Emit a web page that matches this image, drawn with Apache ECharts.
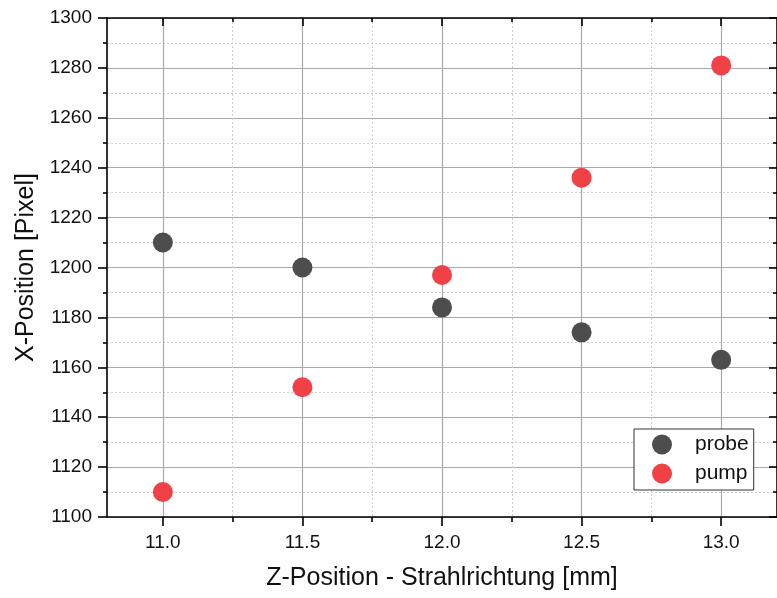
<!DOCTYPE html>
<html>
<head>
<meta charset="utf-8">
<title>X-Position vs Z-Position</title>
<script src="https://cdn.jsdelivr.net/npm/echarts@6/dist/echarts.min.js"></script>
<style>
  html, body { margin: 0; padding: 0; background: #ffffff; }
  #chart { width: 777px; height: 598px; }
</style>
</head>
<body>
<div id="chart"></div>
<script>
// Measured beam positions along the beam direction
const zPos = [11.0, 11.5, 12.0, 12.5, 13.0];
const probe = [1210, 1200, 1184, 1174, 1163];
const pump = [1110, 1152, 1197, 1236, 1281];

// Tick positions on the Z axis
const xMajor = [11.0, 11.5, 12.0, 12.5, 13.0];
const xMinor = [11.25, 11.75, 12.25, 12.75];

const FONT = 'Liberation Sans, Arial, sans-serif';
const AXIS = { color: '#000000', width: 1.6 };
const MAJOR_GRID = { color: '#a9a9a9', width: 1.2, type: 'solid' };
const MINOR_GRID = { color: '#cfcfcf', width: 1, type: [2, 2] };

const X_MIN = 10.8, X_MAX = 13.2;

const chart = echarts.init(document.getElementById('chart'), null, { renderer: 'canvas' });

const option = {
  backgroundColor: '#ffffff',
  animation: false,
  grid: { left: 107, top: 18, width: 674, height: 499, containLabel: false },
  legend: {
    orient: 'vertical',
    left: 634,
    top: 429,
    padding: [5, 5, 6, 18],
    itemWidth: 20,
    itemHeight: 20,
    itemGap: 8,
    borderColor: '#333333',
    borderWidth: 1,
    backgroundColor: '#ffffff',
    textStyle: { fontFamily: FONT, fontSize: 21, color: '#111111', padding: [0, 0, 0, 18] },
    data: ['probe', 'pump']
  },
  xAxis: [
    {
      type: 'value', min: X_MIN, max: X_MAX, position: 'bottom',
      name: 'Z-Position - Strahlrichtung [mm]',
      nameLocation: 'middle', nameGap: 49,
      nameTextStyle: { fontFamily: FONT, fontSize: 25, color: '#111111' },
      axisLine: { show: true, onZero: false, lineStyle: AXIS },
      axisTick: { show: true, customValues: xMajor, length: 9, inside: false, lineStyle: AXIS },
      axisLabel: {
        customValues: xMajor, margin: 16,
        formatter: v => Number(v).toFixed(1),
        fontFamily: FONT, fontSize: 19, color: '#111111'
      },
      splitLine: { show: true, lineStyle: MAJOR_GRID }
    },
    {
      type: 'value', min: X_MIN, max: X_MAX, position: 'bottom',
      axisLine: { show: false, onZero: false },
      axisTick: { show: true, customValues: xMinor, length: 5, inside: false, lineStyle: AXIS },
      axisLabel: { show: false },
      splitLine: { show: true, lineStyle: MINOR_GRID }
    },
    {
      type: 'value', min: X_MIN, max: X_MAX, position: 'top',
      axisLine: { show: true, onZero: false, lineStyle: AXIS },
      axisTick: { show: true, customValues: xMajor, length: 8, inside: true, lineStyle: AXIS },
      axisLabel: { show: false },
      splitLine: { show: false }
    },
    {
      type: 'value', min: X_MIN, max: X_MAX, position: 'top',
      axisLine: { show: false, onZero: false },
      axisTick: { show: true, customValues: xMinor, length: 4, inside: true, lineStyle: AXIS },
      axisLabel: { show: false },
      splitLine: { show: false }
    }
  ],
  yAxis: [
    {
      type: 'value', min: 1100, max: 1300, interval: 20, position: 'left',
      name: 'X-Position [Pixel]',
      nameLocation: 'middle', nameGap: 54,
      nameTextStyle: { fontFamily: FONT, fontSize: 25, color: '#111111' },
      axisLine: { show: true, onZero: false, lineStyle: AXIS },
      axisTick: { show: true, length: 9, inside: false, lineStyle: AXIS },
      minorTick: { show: true, splitNumber: 2, length: 4, lineStyle: AXIS },
      axisLabel: {
        margin: 15, formatter: v => String(v),
        fontFamily: FONT, fontSize: 19, color: '#111111'
      },
      splitLine: { show: true, lineStyle: MAJOR_GRID },
      minorSplitLine: { show: true, lineStyle: MINOR_GRID }
    },
    {
      type: 'value', min: 1100, max: 1300, interval: 20, position: 'right',
      axisLine: { show: true, onZero: false, lineStyle: AXIS },
      axisTick: { show: true, length: 8, inside: true, lineStyle: AXIS },
      minorTick: { show: true, splitNumber: 2, length: 4, lineStyle: AXIS },
      axisLabel: { show: false },
      splitLine: { show: false }
    }
  ],
  series: [
    {
      name: 'probe', type: 'scatter', xAxisIndex: 0, yAxisIndex: 0,
      symbol: 'circle', symbolSize: 20,
      itemStyle: { color: '#4d4d4d', opacity: 1 },
      data: zPos.map((z, i) => [z, probe[i]])
    },
    {
      name: 'pump', type: 'scatter', xAxisIndex: 0, yAxisIndex: 0,
      symbol: 'circle', symbolSize: 20,
      itemStyle: { color: '#ef4146', opacity: 1 },
      data: zPos.map((z, i) => [z, pump[i]])
    }
  ]
};

chart.setOption(option);
</script>
</body>
</html>
